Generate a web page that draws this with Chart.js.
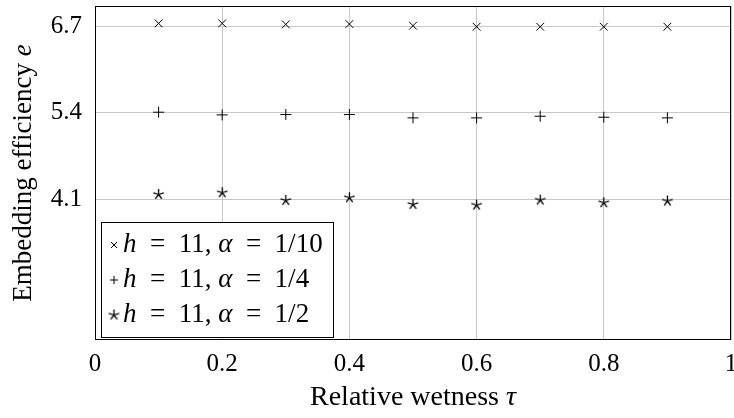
<!DOCTYPE html>
<html lang="en">
<head>
    <meta charset="UTF-8">
    <title>Embedding efficiency vs relative wetness</title>
    <script src="https://cdn.jsdelivr.net/npm/chart.js"></script>
    <style>
        body {
            margin: 0;
            background: white;
        }
        .chart-box {
            width: 734px;
            height: 418px;
        }
    </style>
</head>
<body>
    <div class="chart-box">
        <canvas id="wetChart"></canvas>
    </div>

    <script>
        // values
        const tau = [0.1, 0.2, 0.3, 0.4, 0.5, 0.6, 0.7, 0.8, 0.9];
        const eAlpha10 = [6.74, 6.74, 6.725, 6.73, 6.705, 6.69, 6.69, 6.69, 6.69];
        const eAlpha4 = [5.41, 5.37, 5.375, 5.375, 5.325, 5.325, 5.35, 5.335, 5.325];
        const eAlpha2 = [4.18, 4.205, 4.09, 4.13, 4.03, 4.02, 4.095, 4.055, 4.08];

        const yTicks = [4.1, 5.4, 6.7];
        const xTicks = [0, 0.2, 0.4, 0.6, 0.8, 1];
        const legendH = '11';
        const legendAlpha = ['1/10', '1/4', '1/2'];

        const serif = '"Liberation Serif", "DejaVu Serif", serif';

        // five-spoke star like the pgfplots one
        function makeStar(r) {
            const c = document.createElement('canvas');
            const size = Math.ceil(r * 2 + 2);
            c.width = size;
            c.height = size;
            const ctx = c.getContext('2d');
            ctx.strokeStyle = '#000';
            ctx.lineWidth = 1.3;
            ctx.beginPath();
            for (let i = 0; i < 5; i++) {
                const a = -Math.PI / 2 + i * 2 * Math.PI / 5;
                ctx.moveTo(size / 2, size / 2);
                ctx.lineTo(size / 2 + r * Math.cos(a), size / 2 + r * Math.sin(a));
            }
            ctx.stroke();
            return c;
        }
        const starImg = makeStar(5.5);

        function toPoints(ys) {
            return ys.map((y, i) => ({ x: tau[i], y: y }));
        }

        const frameAndTitles = {
            id: 'frameAndTitles',
            afterDraw(chart) {
                const { ctx, chartArea: a } = chart;
                ctx.save();
                ctx.strokeStyle = '#000';
                ctx.lineWidth = 1;
                ctx.strokeRect(a.left + 0.5, a.top + 0.5, a.right - a.left - 1, a.bottom - a.top - 1);

                ctx.fillStyle = '#000';
                ctx.textBaseline = 'middle';

                // x title
                drawParts(ctx, [['Relative wetness ', false], ['τ', true]], (a.left + a.right) / 2, 398, 28, 'center');

                // y title, rotated
                ctx.translate(24, (a.top + a.bottom) / 2);
                ctx.rotate(-Math.PI / 2);
                drawParts(ctx, [['Embedding efficiency ', false], ['e', true]], 0, 0, 27, 'center');
                ctx.restore();

                // legend
                ctx.save();
                const lx = 101, ly = 222, lw = 232, lh = 115;
                ctx.fillStyle = '#fff';
                ctx.fillRect(lx, ly, lw, lh);
                ctx.strokeStyle = '#000';
                ctx.lineWidth = 1;
                ctx.strokeRect(lx + 0.5, ly + 0.5, lw, lh);
                ctx.fillStyle = '#000';
                ctx.textBaseline = 'middle';
                const sets = chart.data.datasets;
                for (let i = 0; i < sets.length; i++) {
                    const cy = 245 + i * 35;
                    drawMarker(ctx, sets[i].pointStyle, 114, cy);
                    drawParts(ctx, [
                        ['h', true], ['  =  ' + legendH + ', ', false],
                        ['α', true], ['  =  ' + legendAlpha[i], false]
                    ], 123, cy, 27, 'left');
                }
                ctx.restore();
            }
        };

        function drawParts(ctx, parts, x, y, size, align) {
            let total = 0;
            const widths = parts.map(p => {
                ctx.font = (p[1] ? 'italic ' : '') + size + 'px ' + serif;
                const w = ctx.measureText(p[0]).width;
                total += w;
                return w;
            });
            let cx = align === 'center' ? x - total / 2 : x;
            ctx.textAlign = 'left';
            parts.forEach((p, i) => {
                ctx.font = (p[1] ? 'italic ' : '') + size + 'px ' + serif;
                ctx.fillText(p[0], cx, y);
                cx += widths[i];
            });
        }

        function drawMarker(ctx, style, x, y) {
            ctx.save();
            ctx.strokeStyle = '#000';
            ctx.lineWidth = 1;
            ctx.beginPath();
            if (style === 'crossRot') {
                ctx.moveTo(x - 3, y - 3); ctx.lineTo(x + 3, y + 3);
                ctx.moveTo(x + 3, y - 3); ctx.lineTo(x - 3, y + 3);
                ctx.stroke();
            } else if (style === 'cross') {
                ctx.moveTo(x - 4, y); ctx.lineTo(x + 4, y);
                ctx.moveTo(x, y - 4); ctx.lineTo(x, y + 4);
                ctx.stroke();
            } else {
                ctx.drawImage(style, x - style.width / 2, y - style.height / 2);
            }
            ctx.restore();
        }

        const baseSet = {
            showLine: false,
            borderColor: '#000',
            backgroundColor: '#000',
            borderWidth: 1,
            pointBorderWidth: 1
        };

        new Chart(document.getElementById('wetChart'), {
            type: 'scatter',
            data: {
                datasets: [
                    Object.assign({}, baseSet, { label: 'alpha 1/10', data: toPoints(eAlpha10), pointStyle: 'crossRot', pointRadius: 5.5 }),
                    Object.assign({}, baseSet, { label: 'alpha 1/4', data: toPoints(eAlpha4), pointStyle: 'cross', pointRadius: 5.5 }),
                    Object.assign({}, baseSet, { label: 'alpha 1/2', data: toPoints(eAlpha2), pointStyle: starImg, pointRadius: 5 })
                ]
            },
            options: {
                responsive: true,
                maintainAspectRatio: false,
                animation: false,
                layout: { autoPadding: false, padding: { top: 6, right: 3, left: 0, bottom: 0 } },
                plugins: {
                    legend: { display: false },
                    tooltip: { enabled: false }
                },
                scales: {
                    x: {
                        type: 'linear',
                        min: 0,
                        max: 1,
                        afterBuildTicks: s => { s.ticks = xTicks.map(v => ({ value: v })); },
                        afterFit: s => { s.height = 78; s.paddingLeft = 0; s.paddingRight = 0; },
                        grid: { color: '#c8c8c8', lineWidth: 1, drawTicks: false },
                        border: { display: false },
                        ticks: {
                            padding: 9,
                            color: '#000',
                            font: { family: serif, size: 25 },
                            maxRotation: 0,
                            callback: v => String(v)
                        }
                    },
                    y: {
                        type: 'linear',
                        min: 2,
                        max: 7,
                        afterBuildTicks: s => { s.ticks = yTicks.map(v => ({ value: v })); },
                        afterFit: s => { s.width = 95; s.paddingTop = 0; s.paddingBottom = 0; },
                        grid: { color: '#c8c8c8', lineWidth: 1, drawTicks: false },
                        border: { display: false },
                        ticks: {
                            padding: 13,
                            color: '#000',
                            font: { family: serif, size: 25 },
                            callback: v => v.toFixed(1)
                        }
                    }
                }
            },
            plugins: [frameAndTitles]
        });
    </script>
</body>
</html>
